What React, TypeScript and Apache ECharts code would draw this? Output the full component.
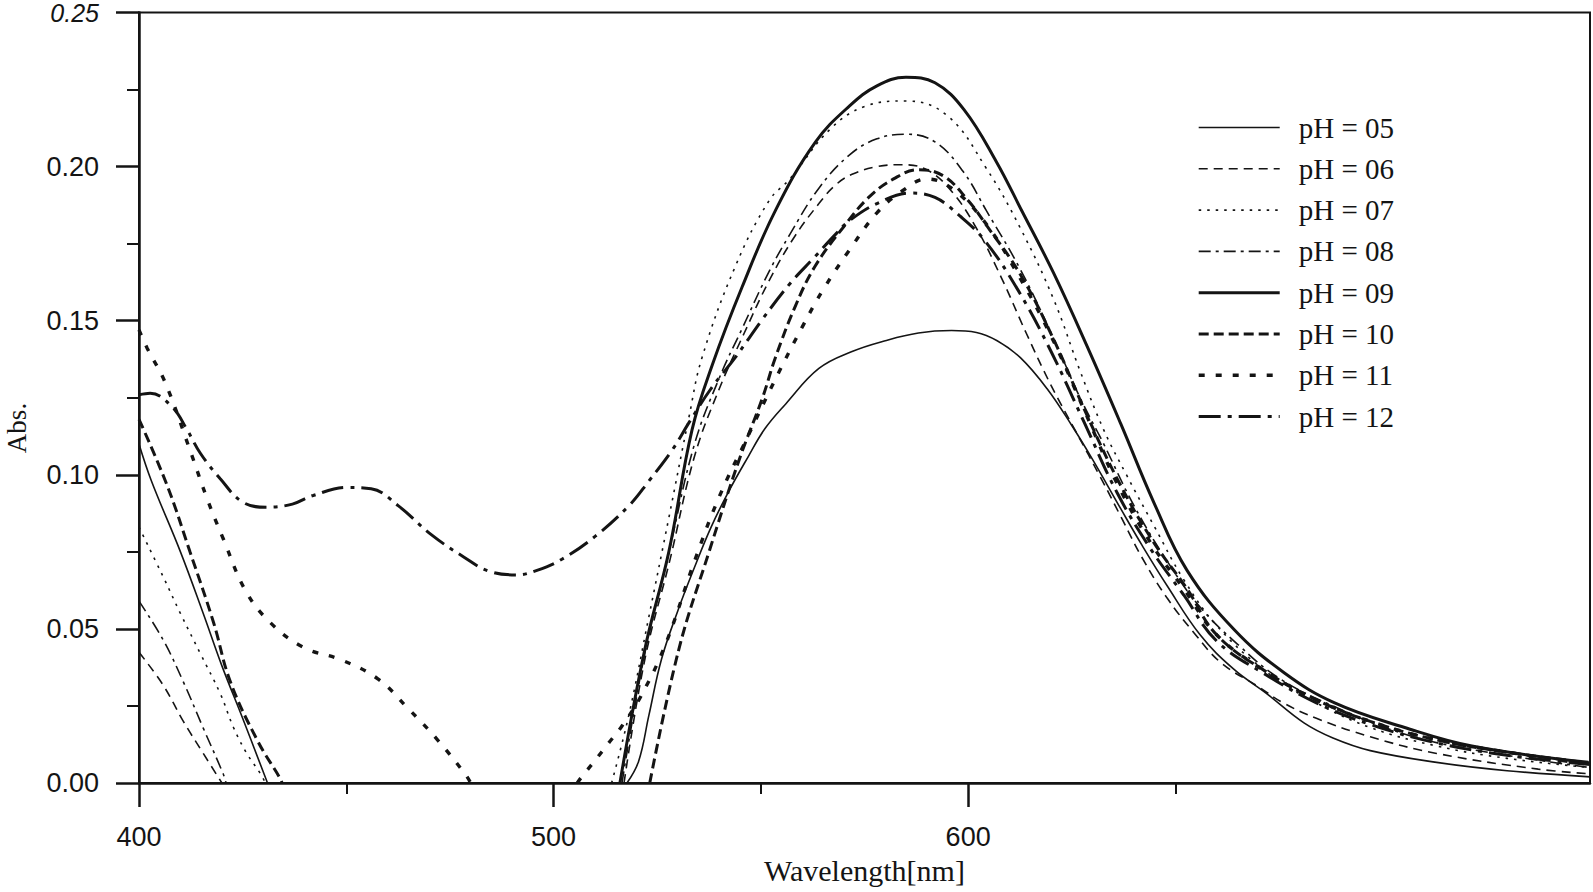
import React, { useEffect, useRef } from "react";
import * as echarts from "echarts";

type Pt = [number, number | null];

// Absorbance spectra (wavelength nm, Abs.). null = curve below 0 (gap)
const ph05: Pt[] = [[400,0.110],[403,0.098],[410,0.075],[415.5,0.055],[420,0.038],[425,0.021],[431,0],[470,null],[517.7,0],[520.5,0.007],[523,0.022],[526,0.040],[530,0.056],[534,0.070],[538,0.083],[542,0.094],[547,0.106],[551,0.115],[556,0.123],[564,0.1345],[572,0.140],[580,0.1435],[588,0.146],[596,0.1468],[602,0.1462],[607,0.1435],[612.6,0.1380],[619,0.128],[625,0.116],[630,0.105],[636.8,0.089],[642,0.077],[648,0.064],[656,0.048],[664,0.037],[672,0.029],[681,0.0195],[688,0.0146],[697,0.0105],[713,0.0067],[730,0.004],[750,0.002]];
const ph06: Pt[] = [[400,0.0424],[405.8,0.0318],[410.7,0.020],[415.5,0.0096],[420,0],[470,null],[517,0],[522,0.040],[528,0.072],[534,0.106],[540,0.128],[546,0.146],[552,0.163],[558,0.177],[564,0.188],[568,0.194],[572,0.1975],[578,0.2],[584,0.2006],[590,0.199],[596,0.192],[602,0.180],[608,0.164],[614,0.146],[620,0.129],[626,0.114],[632,0.099],[637,0.086],[642,0.073],[648,0.060],[654.5,0.0487],[661,0.039],[669.7,0.0315],[676,0.026],[684,0.021],[697,0.015],[713,0.0096],[737.5,0.0045],[750,0.003]];
const ph07: Pt[] = [[400,0.083],[405.8,0.067],[410,0.055],[414.8,0.042],[419.6,0.029],[422.8,0.018],[426,0.0096],[429.3,0.003],[430.5,0],[470,null],[514,0],[518.2,0.0223],[523,0.054],[527.8,0.086],[532.7,0.119],[535.8,0.138],[543.8,0.1675],[552,0.189],[557,0.196],[566.6,0.212],[575,0.2195],[585,0.2213],[595,0.2165],[604.4,0.1994],[612.6,0.180],[620.6,0.157],[627,0.1337],[632.7,0.1146],[638.3,0.0997],[645,0.083],[652,0.066],[660,0.051],[672,0.036],[684,0.026],[697,0.018],[713,0.012],[730,0.008],[750,0.005]];
const ph08: Pt[] = [[400,0.059],[405.8,0.0465],[410.7,0.0328],[415.5,0.0178],[420.3,0.003],[421,0],[470,null],[516.5,0],[522,0.042],[528,0.076],[534,0.110],[540,0.1315],[545.5,0.1475],[552,0.166],[557,0.178],[564,0.193],[571.4,0.2038],[578,0.209],[585,0.2105],[592,0.208],[598.8,0.1984],[604.4,0.1857],[612.6,0.1666],[620.6,0.1443],[627,0.125],[632.7,0.110],[640,0.090],[648,0.072],[656,0.057],[665,0.045],[675,0.034],[688,0.025],[705,0.016],[721,0.011],[750,0.005]];
const ph09: Pt[] = [[516,0],[522,0.0433],[527.8,0.075],[533.4,0.1146],[538.3,0.1357],[545.5,0.161],[553.5,0.1857],[563.2,0.208],[571.4,0.2197],[578,0.2262],[585,0.229],[592,0.2272],[599,0.2185],[606.8,0.2016],[613,0.1855],[620.6,0.1655],[628.6,0.142],[636.8,0.1166],[644.8,0.091],[652.8,0.069],[664.2,0.0497],[676.3,0.0357],[688.4,0.026],[705.3,0.018],[721.5,0.012],[749.6,0.0067]];
const ph10: Pt[] = [[400,0.118],[406.8,0.0965],[412.3,0.075],[418,0.052],[422,0.033],[428.6,0.0137],[434,0.0016],[434.5,0],[470,null],[523.2,0],[530.2,0.0433],[537.5,0.075],[544.8,0.105],[550.4,0.125],[553.5,0.138],[558.4,0.155],[563,0.1675],[569.7,0.180],[576,0.190],[582,0.196],[588,0.199],[594,0.197],[600,0.189],[604.4,0.181],[612.6,0.165],[620.6,0.144],[628.6,0.1195],[636.8,0.0965],[644.8,0.078],[652.8,0.063],[660,0.048],[672,0.036],[684,0.027],[697,0.020],[713,0.014],[730,0.010],[750,0.0065]];
const ph11: Pt[] = [[400,0.147],[402,0.141],[406.3,0.130],[412.3,0.108],[416.5,0.092],[420.4,0.079],[425.7,0.0624],[431.7,0.052],[439.7,0.044],[448.7,0.040],[457.6,0.0338],[464.9,0.0242],[472.2,0.0137],[478.9,0.0025],[480,0],[495,null],[505.7,0],[506.8,0.002],[510,0.0073],[513.3,0.013],[516.5,0.0185],[521,0.028],[527,0.045],[534,0.072],[540,0.093],[546.7,0.112],[553.5,0.131],[560,0.148],[565,0.160],[571.4,0.173],[578,0.185],[584,0.192],[590,0.196],[596,0.193],[604,0.182],[612,0.165],[620,0.145],[628,0.121],[636,0.097],[644,0.078],[652,0.063],[660,0.048],[672,0.036],[684,0.027],[697,0.020],[713,0.014],[730,0.010],[750,0.006]];
const ph12: Pt[] = [[400,0.126],[402.7,0.1265],[408,0.122],[411.6,0.1146],[414.8,0.107],[419.6,0.0987],[425.2,0.091],[431,0.0895],[437,0.0905],[442,0.0933],[450.4,0.0959],[456,0.0955],[462.5,0.090],[470.5,0.0806],[478.5,0.0732],[484.3,0.0688],[491,0.0675],[496,0.069],[502,0.0726],[510,0.080],[518.2,0.090],[523,0.098],[528.6,0.108],[532.7,0.117],[538,0.128],[543.8,0.138],[550.4,0.1505],[557,0.162],[563,0.1707],[568,0.178],[571.4,0.1825],[578,0.188],[586,0.1914],[592,0.190],[598,0.184],[604,0.176],[612,0.160],[620,0.140],[628,0.117],[636,0.094],[644,0.076],[652,0.061],[660,0.046],[672,0.035],[684,0.026],[697,0.019],[713,0.013],[730,0.009],[750,0.006]];

const seriesNames = ["pH = 05", "pH = 06", "pH = 07", "pH = 08", "pH = 09", "pH = 10", "pH = 11", "pH = 12"];
const seriesData = [ph05, ph06, ph07, ph08, ph09, ph10, ph11, ph12];
const xMajorTicks = [400, 500, 600, 700];
const xMinorTicks = [450, 550, 650];

const lineStyles: { width: number; type: any }[] = [
  { width: 1.6, type: "solid" },
  { width: 1.6, type: [9, 6] },
  { width: 1.6, type: [2.5, 6] },
  { width: 1.6, type: [12, 5, 3, 5] },
  { width: 3, type: "solid" },
  { width: 3, type: [10, 5] },
  { width: 3.4, type: [6, 11] },
  { width: 3, type: [22, 7, 4, 7] },
];

const INK = "#141414";

export default function App() {
  const ref = useRef<HTMLDivElement>(null);
  useEffect(() => {
    if (!ref.current) return;
    const chart = echarts.init(ref.current, null, { renderer: "svg" });
    const series = seriesData.map((d, i) => ({
      name: seriesNames[i],
      type: "line",
      data: d.map((p) => [p[0], p[1] === null ? "-" : p[1]]),
      showSymbol: false,
      symbol: "none",
      smooth: 0.4,
      connectNulls: false,
      clip: true,
      lineStyle: { color: INK, width: lineStyles[i].width, type: lineStyles[i].type },
      itemStyle: { color: INK },
      z: 3,
    }));
    chart.setOption({
      animation: false,
      backgroundColor: "#ffffff",
      grid: { left: 139, right: 3, top: 10, bottom: 109, show: true, borderColor: INK, borderWidth: 2, backgroundColor: "transparent" },
      legend: {
        orient: "vertical",
        left: 1192,
        top: 108,
        itemWidth: 81,
        itemHeight: 14,
        itemGap: 12.3,
        data: seriesNames,
        itemStyle: { opacity: 0, color: "transparent", borderWidth: 0 },
        lineStyle: { width: "inherit", type: "inherit", color: INK },
        textStyle: { fontFamily: "Liberation Serif", fontSize: 29, color: INK, lineHeight: 28, padding: [0, 0, 0, 14] },
        selectedMode: false,
      },
      xAxis: [
        {
          type: "value",
          min: 400,
          max: 750,
          interval: 100,
          position: "bottom",
          axisLine: { show: true, onZero: false, lineStyle: { color: INK, width: 2.5 } },
          axisTick: { show: true, inside: false, length: 24, customValues: xMajorTicks, lineStyle: { color: INK, width: 2.5 } },
          axisLabel: { show: true, margin: 40, customValues: xMajorTicks, showMaxLabel: false, fontFamily: "Liberation Sans", fontSize: 27, color: INK },
          splitLine: { show: false },
          name: "Wavelength[nm]",
          nameLocation: "middle",
          nameGap: 72,
          nameTextStyle: { fontFamily: "Liberation Serif", fontSize: 30, color: INK },
        },
        {
          type: "value",
          min: 400,
          max: 750,
          interval: 50,
          position: "bottom",
          axisLine: { show: false, onZero: false },
          axisTick: { show: true, inside: false, length: 11, customValues: xMinorTicks, lineStyle: { color: INK, width: 2 } },
          axisLabel: { show: false },
          splitLine: { show: false },
        },
      ],
      yAxis: {
        type: "value",
        min: 0,
        max: 0.25,
        interval: 0.05,
        axisLine: { show: true, onZero: false, lineStyle: { color: INK, width: 2.5 } },
        axisTick: { show: true, inside: false, length: 23, lineStyle: { color: INK, width: 2.5 } },
        minorTick: { show: true, splitNumber: 2, length: 12, lineStyle: { color: INK, width: 2 } },
        minorSplitLine: { show: false },
        splitLine: { show: false },
        axisLabel: {
          margin: 40,
          fontFamily: "Liberation Sans",
          fontSize: 27,
          color: INK,
          formatter: (v: number) => (v >= 0.2499 ? "{it|0.25}" : v.toFixed(2)),
          rich: { it: { fontStyle: "italic", fontFamily: "Liberation Sans", fontSize: 25, color: INK } },
        },
      },
      graphic: [
        {
          type: "text",
          x: 17,
          y: 428,
          rotation: Math.PI / 2,
          style: { text: "Abs.", fontFamily: "Liberation Serif", fontSize: 27, fill: INK, align: "center", verticalAlign: "middle" },
        },
      ],
      series,
    });
    return () => chart.dispose();
  }, []);
  return <div ref={ref} style={{ position: "fixed", left: 0, top: 0, width: 1593, height: 892, background: "#fff" }} />;
}
